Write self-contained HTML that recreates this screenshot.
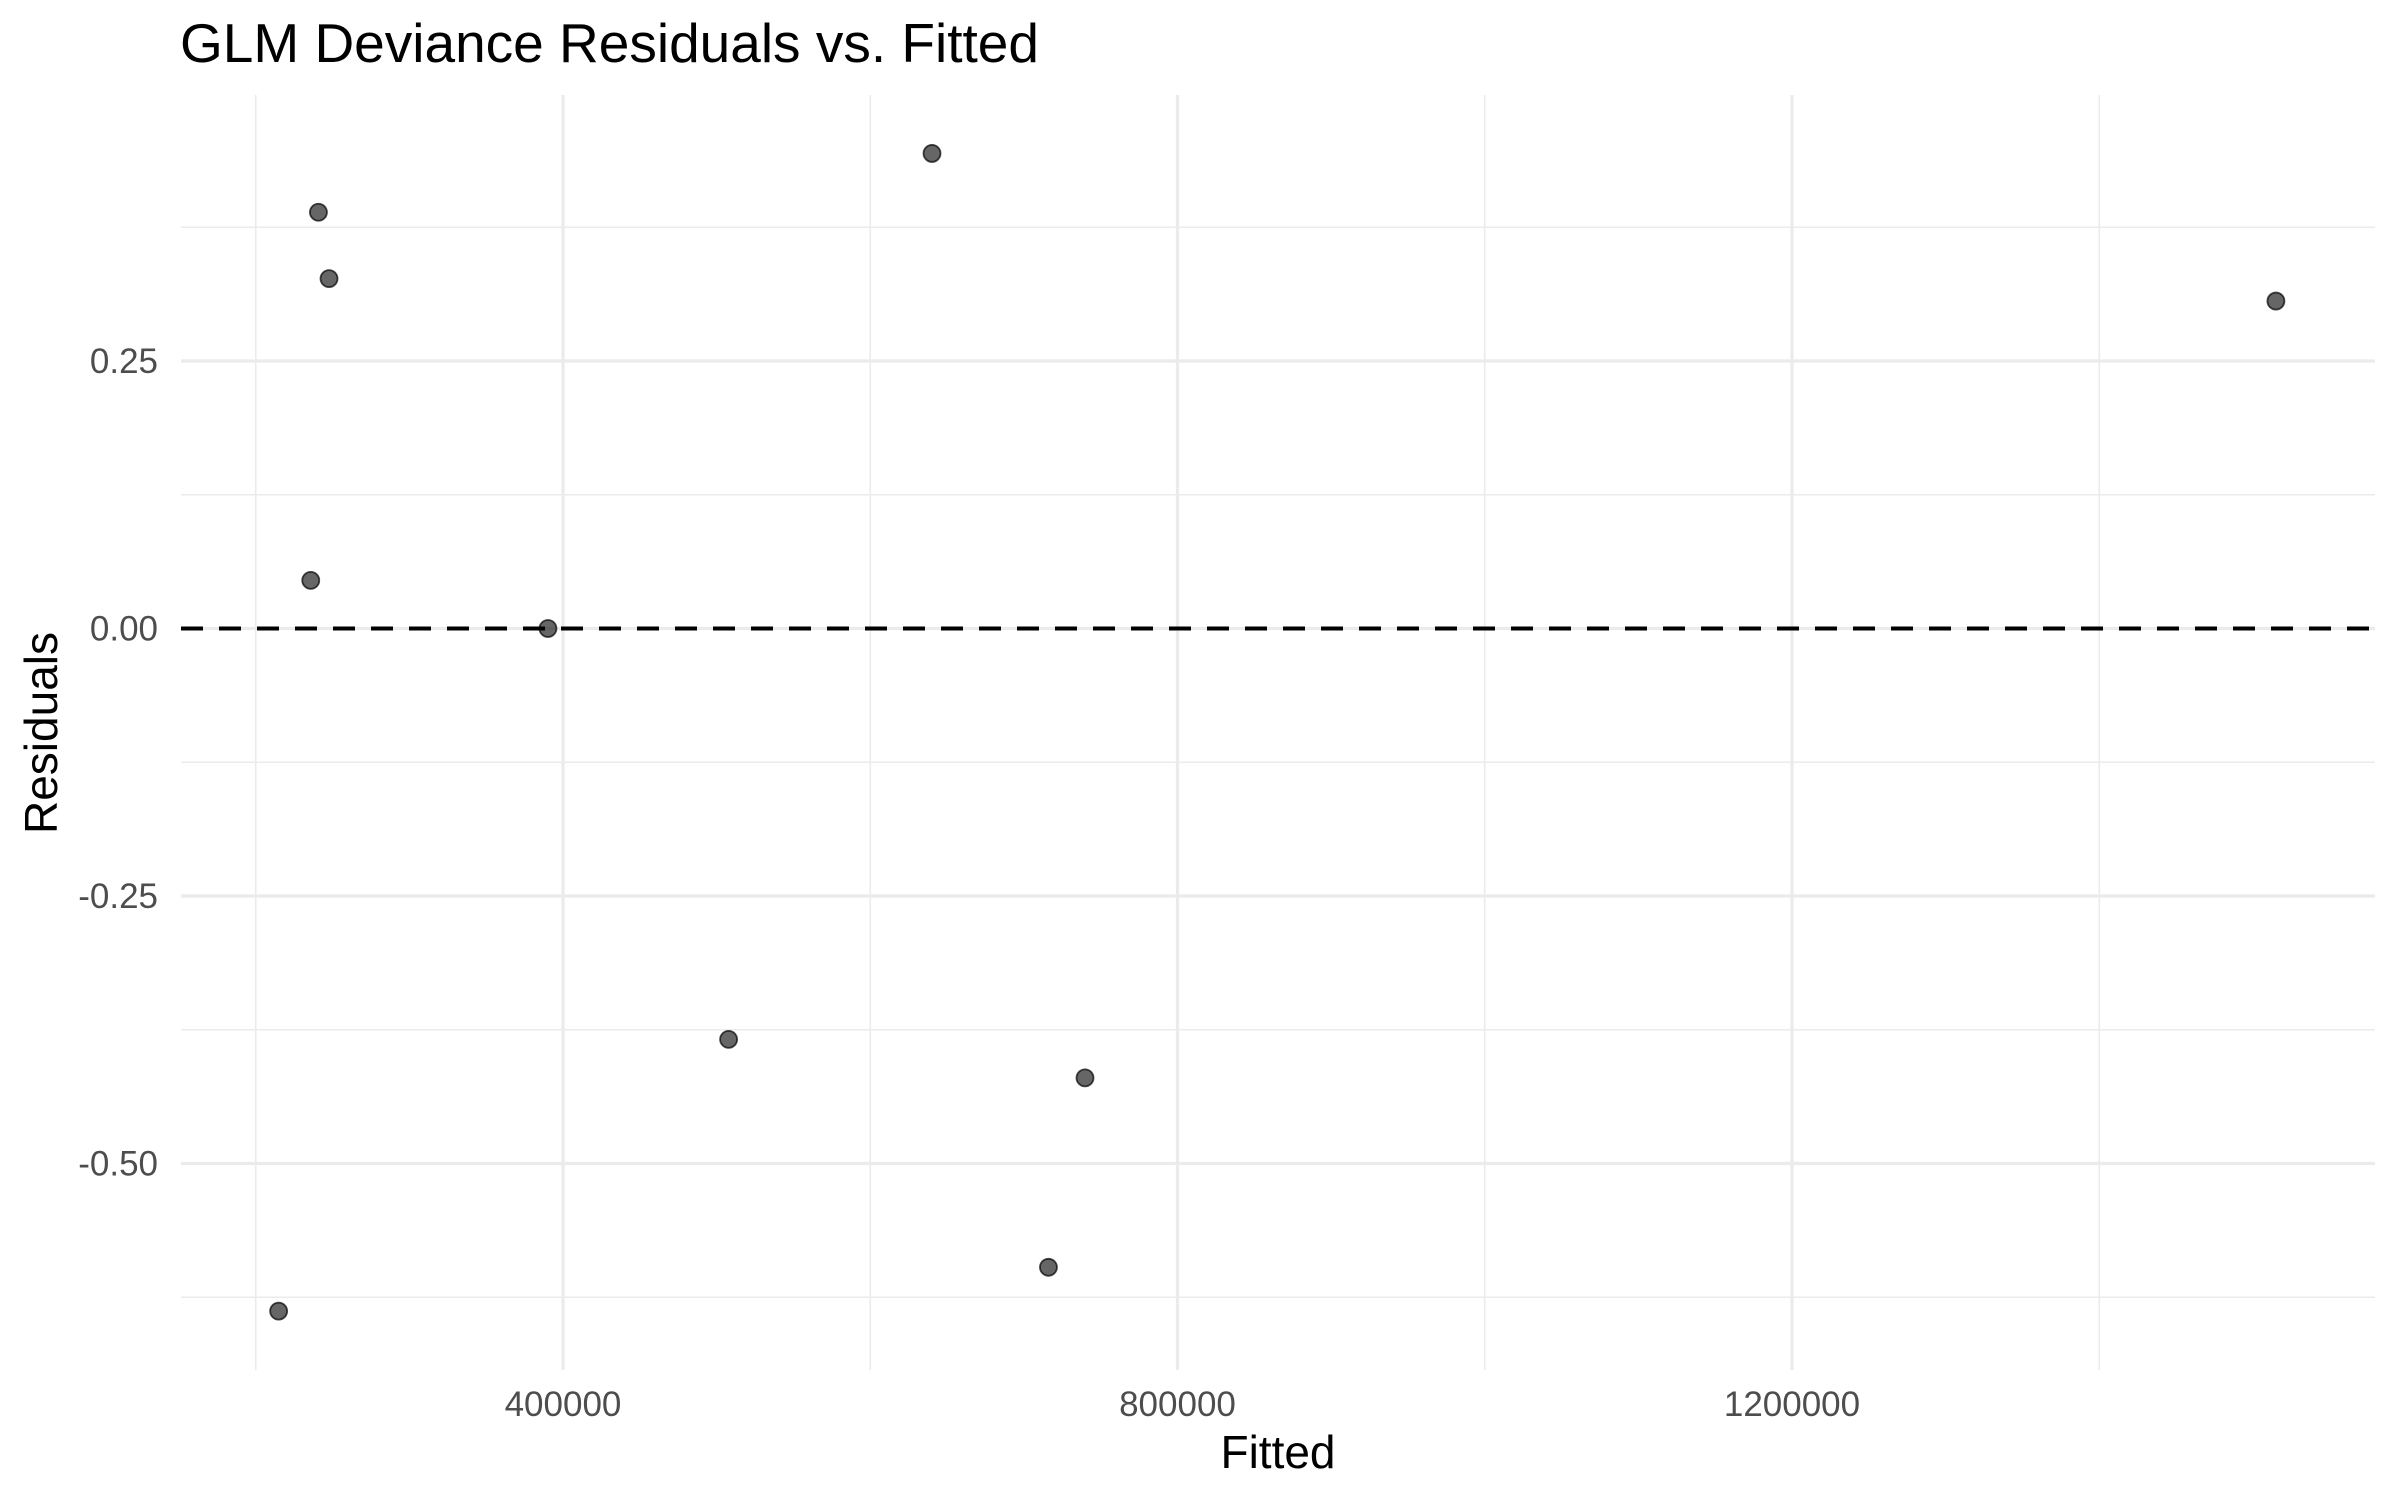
<!DOCTYPE html>
<html><head><meta charset="utf-8"><style>
html,body{margin:0;padding:0;background:#fff;}
svg{display:block;font-family:"Liberation Sans",Arial,sans-serif;}
</style></head><body>
<svg id="chart" width="2400" height="1500" viewBox="0 0 2400 1500" xmlns="http://www.w3.org/2000/svg">
<rect width="2400" height="1500" fill="#fff"/>
<text x="180" y="62" font-size="55" fill="#000">GLM Deviance Residuals vs. Fitted</text>
<g id="grid"></g>
<g id="ref"></g>
<g id="pts"></g>
<g id="axes"></g>
<text x="1278" y="1468" font-size="46" text-anchor="middle" fill="#000">Fitted</text>
<text transform="translate(57,733) rotate(-90)" font-size="46" text-anchor="middle" fill="#000">Residuals</text>
</svg>
<script>
const fittedValues=[214900,235800,240800,247700,390200,507800,640200,716000,739800,1515000];
const residualValues=[-0.638,0.045,0.389,0.327,0,-0.384,0.444,-0.597,-0.420,0.306];
const xMajorTicks=[400000,800000,1200000];
const xMinorTicks=[200000,600000,1000000,1400000];
const yMajorTicks=[0.25,0,-0.25,-0.5];
const yMinorTicks=[0.375,0.125,-0.125,-0.375,-0.625];
const yTickLabels=["0.25","0.00","-0.25","-0.50"];

const L=181,R=2375,T=95,B=1370;
function xs(v){return 563+(v-400000)*614.5/400000;}
function ys(v){return 628.5-v*1070;}
const NS="http://www.w3.org/2000/svg";
function mk(tag,attrs,parent){const e=document.createElementNS(NS,tag);for(const k in attrs)e.setAttribute(k,attrs[k]);parent.appendChild(e);return e;}
const grid=document.getElementById('grid'),axes=document.getElementById('axes'),pts=document.getElementById('pts'),ref=document.getElementById('ref');
yMinorTicks.forEach(v=>{const l=mk('line',{x1:L,x2:R,y1:ys(v),y2:ys(v),stroke:'#ebebeb','stroke-width':1.6},grid);

});
xMinorTicks.forEach(v=>{const l=mk('line',{x1:xs(v),x2:xs(v),y1:T,y2:B,stroke:'#ebebeb','stroke-width':1.6},grid);

});
yMajorTicks.forEach((v,i)=>{const l=mk('line',{x1:L,x2:R,y1:ys(v),y2:ys(v),stroke:'#ebebeb','stroke-width':3.2},grid);


const t=mk('text',{x:158,y:ys(v)+12,'font-size':35,'text-anchor':'end',fill:'#4d4d4d'},axes);
t.textContent=yTickLabels[i];

});
xMajorTicks.forEach(v=>{const l=mk('line',{x1:xs(v),x2:xs(v),y1:T,y2:B,stroke:'#ebebeb','stroke-width':3.2},grid);


const t=mk('text',{x:xs(v),y:1416,'font-size':35,'text-anchor':'middle',fill:'#4d4d4d'},axes);
t.textContent=String(v);

});
const zl=mk('line',{x1:L,x2:R,y1:ys(0),y2:ys(0),stroke:'#000','stroke-width':4,'stroke-dasharray':'22 16'},ref);


fittedValues.forEach((f,i)=>{const c=mk('circle',{cx:xs(f),cy:ys(residualValues[i]),r:8.5,fill:'#000','fill-opacity':0.6,stroke:'#000','stroke-opacity':0.7,'stroke-width':1.8},pts);

});
</script>
</body></html>
